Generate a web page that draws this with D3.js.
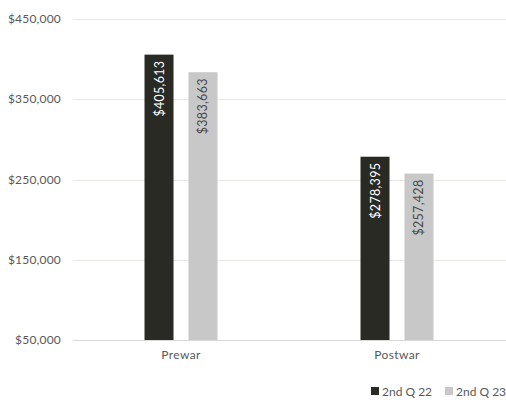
<!DOCTYPE html>
<html>
<head>
<meta charset="utf-8">
<script src="https://cdn.jsdelivr.net/npm/d3@7"></script>
<style>
  body { margin: 0; background: #fff; }
  svg { font-family: Lato, "Open Sans", sans-serif; }
</style>
</head>
<body>
<div id="chart"></div>
<script>
// chart values
var categories = ["Prewar", "Postwar"];
var seriesNames = ["2nd Q 22", "2nd Q 23"];
var q22 = [405613, 278395];
var q23 = [383663, 257428];
var yTicks = [50000, 150000, 250000, 350000, 450000];
var yTickLabels = ["$50,000", "$150,000", "$250,000", "$350,000", "$450,000"];

var width = 506, height = 400;
var margins = {top: 19, right: 0, bottom: 60, left: 73};
var colors = ["#2a2a25", "#c8c8c9"];

var svg = d3.select("#chart").append("svg")
    .attr("width", width)
    .attr("height", height);

var x = d3.scaleBand()
    .domain(categories)
    .range([margins.left, margins.left + 432]);

var inner = d3.scaleBand()
    .domain(seriesNames)
    .range([x.bandwidth() / 2 - 36.5, x.bandwidth() / 2 + 36.5])
    .paddingInner(0.34);

var y = d3.scaleLinear()
    .domain([50000, 450000])
    .range([height - margins.bottom, margins.top]);

// gridlines
svg.append("g").selectAll("line")
    .data(yTicks)
    .enter().append("line")
    .attr("x1", margins.left)
    .attr("x2", width)
    .attr("y1", function(d) { return Math.round(y(d)) + 0.5; })
    .attr("y2", function(d) { return Math.round(y(d)) + 0.5; })
    .attr("stroke", function(d, i) { return i == 0 ? "#d9d9d9" : "#e8e8e3"; })
    .attr("stroke-width", 1);

// y labels
svg.append("g").selectAll("text")
    .data(yTicks)
    .enter().append("text")
    .attr("x", 61)
    .attr("y", function(d) { return y(d) + 4; })
    .attr("text-anchor", "end")
    .attr("font-size", "12px")
    .attr("letter-spacing", "0.2px")
    .attr("fill", "#595959")
    .text(function(d, i) { return yTickLabels[i]; });

var rows = categories.map(function(c, i) {
    return {cat: c, vals: [q22[i], q23[i]]};
});

var groups = svg.append("g").selectAll("g")
    .data(rows)
    .enter().append("g")
    .attr("transform", function(d) { return "translate(" + x(d.cat) + ",0)"; });

groups.selectAll("rect")
    .data(function(d) { return d.vals.map(function(v, j) { return {v: v, s: seriesNames[j], j: j}; }); })
    .enter().append("rect")
    .attr("x", function(d) { return inner(d.s); })
    .attr("y", function(d) { return y(d.v); })
    .attr("width", inner.bandwidth())
    .attr("height", function(d) { return y(50000) - y(d.v); })
    .attr("fill", function(d) { return colors[d.j]; });

var fmt = d3.format(",");
groups.selectAll("text.val")
    .data(function(d) { return d.vals.map(function(v, j) { return {v: v, s: seriesNames[j], j: j}; }); })
    .enter().append("text")
    .attr("class", "val")
    .attr("transform", function(d) {
        return "translate(" + (inner(d.s) + inner.bandwidth() / 2 + 4.5) + "," + (y(d.v) + 6) + ")rotate(-90)";
    })
    .attr("text-anchor", "end")
    .attr("font-size", "12.5px")
    .attr("letter-spacing", "0.3px")
    .attr("fill", function(d) { return d.j == 0 ? "#ffffff" : "#4a4a4a"; })
    .text(function(d) { return "$" + fmt(d.v); });

// category labels
svg.append("g").selectAll("text")
    .data(categories)
    .enter().append("text")
    .attr("x", function(d) { return x(d) + x.bandwidth() / 2; })
    .attr("y", 359)
    .attr("text-anchor", "middle")
    .attr("font-size", "12px")
    .attr("letter-spacing", "0.4px")
    .attr("fill", "#595959")
    .text(function(d) { return d; });

// legend
var legend = svg.append("g").selectAll("g")
    .data(seriesNames)
    .enter().append("g")
    .attr("transform", function(d, i) { return "translate(" + (371 + i * 74) + ",387)"; });

legend.append("rect")
    .attr("width", 8).attr("height", 8)
    .attr("fill", function(d, i) { return colors[i]; });

legend.append("text")
    .attr("x", 11).attr("y", 8.5)
    .attr("font-size", "12px")
    .attr("fill", "#595959")
    .text(function(d) { return d; });
</script>
</body>
</html>
